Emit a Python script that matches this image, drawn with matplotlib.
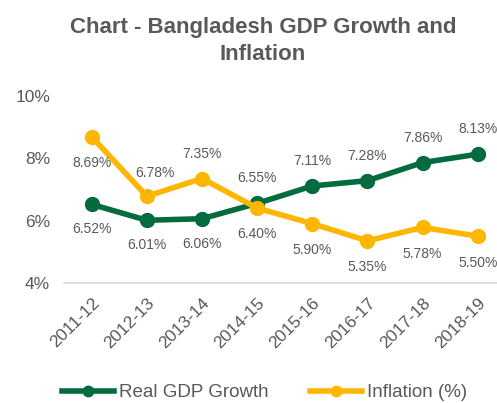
import matplotlib.pyplot as plt

plt.rcParams['font.family'] = ['Liberation Sans', 'DejaVu Sans']

years = ['2011-12', '2012-13', '2013-14', '2014-15', '2015-16', '2016-17', '2017-18', '2018-19']
gdp = [6.52, 6.01, 6.06, 6.55, 7.11, 7.28, 7.86, 8.13]
inflation = [8.69, 6.78, 7.35, 6.40, 5.90, 5.35, 5.78, 5.50]

# label placement: +1 above, -1 below
gdp_pos = [-1, -1, -1, 1, 1, 1, 1, 1]
infl_pos = [-1, 1, 1, -1, -1, -1, -1, -1]

green = '#046A3F'
yellow = '#FFB600'
txt = '#595959'

fig = plt.figure(figsize=(4.97, 4.03), dpi=100)
ax = fig.add_axes([0.129, 0.298, 0.871, 0.464])

x = list(range(len(years)))
ax.plot(x, gdp, color=green, lw=4, marker='o', ms=10, label='Real GDP Growth', zorder=3)
ax.plot(x, inflation, color=yellow, lw=4, marker='o', ms=10, label='Inflation (%)', zorder=3)

for i in x:
    ax.annotate(f'{gdp[i]:.2f}%', (i, gdp[i]), xytext=(0, 18 * gdp_pos[i]),
                textcoords='offset points', ha='center', va='center', fontsize=10, color=txt)
    if i == 1:
        ax.annotate(f'{inflation[i]:.2f}%', (i, inflation[i]), xytext=(6, 17),
                    textcoords='offset points', ha='center', va='center', fontsize=10, color=txt,
                    arrowprops=dict(arrowstyle='-', color='#A6A6A6', lw=1, shrinkA=6, shrinkB=3))
    else:
        off = 18 if infl_pos[i] > 0 else -19
        ax.annotate(f'{inflation[i]:.2f}%', (i, inflation[i]), xytext=(0, off),
                    textcoords='offset points', ha='center', va='center', fontsize=10, color=txt)

ax.set_ylim(4, 10)
ax.set_yticks([4, 6, 8, 10])
ax.set_yticklabels(['4%', '6%', '8%', '10%'])
ax.set_xlim(-0.5, 7.35)
ax.set_xticks(x)
ax.set_xticklabels(years, rotation=45, ha='right', rotation_mode='anchor')

for s in ['top', 'right', 'left']:
    ax.spines[s].set_visible(False)
ax.spines['bottom'].set_color('#D9D9D9')
ax.spines['bottom'].set_linewidth(1.2)
ax.tick_params(axis='both', length=0, labelsize=12.5, labelcolor=txt)
ax.tick_params(axis='y', pad=10)
ax.tick_params(axis='x', pad=9)

fig.text(0.529, 0.958, 'Chart - Bangladesh GDP Growth and\nInflation', ha='center', va='top',
         fontsize=16, fontweight='bold', color=txt, linespacing=1.35)

fig.legend(loc='center', bbox_to_anchor=(0.532, 0.025), ncol=2, frameon=False, fontsize=13.5,
           labelcolor=txt, handlelength=2.8, handletextpad=0.25, columnspacing=2.2,
           markerscale=0.75)

fig.savefig('out.png', dpi=100)
